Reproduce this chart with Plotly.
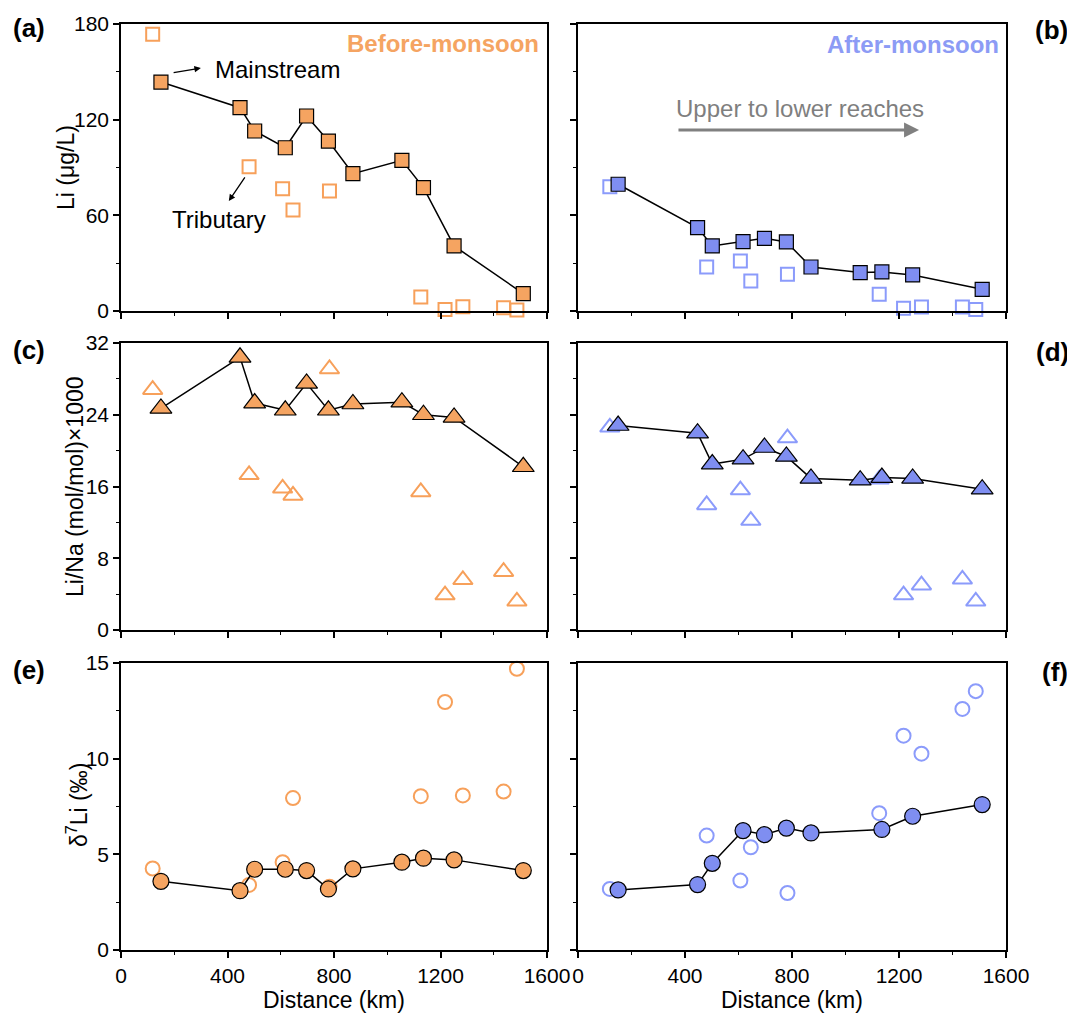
import plotly.graph_objects as go

# ---------------- data ----------------
main_x = [150, 447, 502, 617, 697, 779, 871, 1055, 1136, 1251, 1511]
trib_x = [119, 481, 607, 646, 783, 1126, 1217, 1284, 1437, 1487]

li_before_main = [143.6, 127.5, 112.9, 102.4, 122.3, 106.6, 86.1, 94.5, 77.4, 40.8, 10.9]
li_before_trib = [173.5, 90.5, 76.7, 63.3, 75.3, 8.8, 1.0, 2.7, 2.0, 0.6]
li_after_main = [79.5, 52.3, 40.8, 43.5, 45.6, 43.3, 27.6, 24.1, 24.5, 22.6, 13.6]
li_after_trib = [78.0, 27.6, 31.4, 18.8, 23.0, 10.5, 1.7, 2.5, 2.5, 1.0]

lina_before_main = [24.7, 30.4, 25.3, 24.5, 27.5, 24.5, 25.2, 25.4, 24.0, 23.7, 18.2]
lina_before_trib = [26.8, 17.3, 15.8, 15.0, 29.1, 15.4, 3.9, 5.6, 6.5, 3.2]
lina_after_main = [22.8, 21.95, 18.5, 19.05, 20.35, 19.35, 16.9, 16.7, 17.0, 16.9, 15.7]
lina_after_trib = [22.6, 13.95, 15.6, 12.2, 21.4, 16.8, 3.9, 5.0, 5.65, 3.2]

d7li_before_main = [3.59, 3.10, 4.22, 4.22, 4.15, 3.19, 4.24, 4.59, 4.80, 4.71, 4.15]
d7li_before_trib = [4.26, 3.40, 4.59, 7.94, 3.31, 8.04, 12.96, 8.08, 8.28, 14.7]
d7li_after_main = [3.14, 3.42, 4.53, 6.24, 6.03, 6.37, 6.12, None, 6.30, 6.99, 7.60]
d7li_after_trib = [3.19, 5.98, 3.63, 5.37, 2.98, 7.15, 11.2, 10.26, 12.6, 13.53]

x_ticks = [0, 400, 800, 1200, 1600]
y_ranges = [[0, 180], [0, 32], [0, 15]]
y_dticks = [60, 8, 5]
y_titles = ["Li (μg/L)", "Li/Na (mol/mol)×1000", "δ<sup>7</sup>Li (‰)"]
panel_labels = ["(a)", "(b)", "(c)", "(d)", "(e)", "(f)"]

# ---------------- style ----------------
OFF = 8  # page body margin
W, H = 1075 - OFF, 1015 - OFF
FONT = "Liberation Sans, Arial, sans-serif"
ORANGE_FILL = "#F5A461"
ORANGE_OPEN = "#F7A05A"
BLUE_FILL = "#7F8EF1"
BLUE_OPEN = "#8B9BFB"


def px(x):
    return (x - OFF) / W


def py(y):
    return 1 - (y - OFF) / H


col_dom = [[px(121), px(547)], [px(578), px(1006)]]
row_dom = [[py(311), py(24)], [py(630), py(343)], [py(950), py(663)]]

fig = go.Figure()

series = [
    (0, 0, li_before_main, li_before_trib, "square", ORANGE_FILL, ORANGE_OPEN, 14, 13),
    (0, 1, li_after_main, li_after_trib, "square", BLUE_FILL, BLUE_OPEN, 14, 13),
    (1, 0, lina_before_main, lina_before_trib, "triangle-up", ORANGE_FILL, ORANGE_OPEN, 19, 17),
    (1, 1, lina_after_main, lina_after_trib, "triangle-up", BLUE_FILL, BLUE_OPEN, 19, 17),
    (2, 0, d7li_before_main, d7li_before_trib, "circle", ORANGE_FILL, ORANGE_OPEN, 16, 14),
    (2, 1, d7li_after_main, d7li_after_trib, "circle", BLUE_FILL, BLUE_OPEN, 16, 14),
]

for r, c, main, trib, sym, fcol, ocol, sf, so in series:
    idx = r * 2 + c + 1
    xa = "x" if idx == 1 else f"x{idx}"
    ya = "y" if idx == 1 else f"y{idx}"
    fig.add_trace(go.Scatter(
        x=trib_x, y=trib, mode="markers", xaxis=xa, yaxis=ya, cliponaxis=False,
        marker=dict(symbol=sym + "-open", size=so, color=ocol, line=dict(width=2, color=ocol)),
        showlegend=False, hoverinfo="x+y"))
    fig.add_trace(go.Scatter(
        x=main_x, y=main, mode="lines+markers", xaxis=xa, yaxis=ya, cliponaxis=False,
        connectgaps=True,
        line=dict(color="black", width=1.5),
        marker=dict(symbol=sym, size=sf, color=fcol, line=dict(width=1.2, color="black")),
        showlegend=False, hoverinfo="x+y"))

    ax_common = dict(showline=True, linecolor="black", linewidth=1.5, mirror=True,
                     ticks="outside", ticklen=6, tickwidth=1.5, tickcolor="black",
                     showgrid=False, zeroline=False, automargin=False,
                     tickfont=dict(family=FONT, size=21, color="black"))
    xkey = "xaxis" if idx == 1 else f"xaxis{idx}"
    ykey = "yaxis" if idx == 1 else f"yaxis{idx}"
    fig.update_layout(**{
        xkey: dict(ax_common, domain=col_dom[c], anchor=ya, range=[0, 1600],
                   tickvals=x_ticks, showticklabels=(r == 2),
                   minor=dict(ticks="outside", ticklen=3, tickwidth=1.2, tickcolor="black", dtick=200)),
        ykey: dict(ax_common, domain=row_dom[r], anchor=xa, range=y_ranges[r],
                   dtick=y_dticks[r], tick0=0, showticklabels=(c == 0),
                   minor=dict(ticks="outside", ticklen=3, tickwidth=1.2, tickcolor="black",
                              dtick=y_dticks[r] / 2)),
    })

ann = []
lab_pos = [(29, 28), (1051, 30), (29, 350), (1052, 352), (29, 670), (1055, 672)]
for t, (x, y) in zip(panel_labels, lab_pos):
    ann.append(dict(text=f"<b>{t}</b>", x=px(x), y=py(y), xref="paper", yref="paper",
                    showarrow=False, font=dict(family=FONT, size=26, color="black"),
                    xanchor="center", yanchor="middle"))
for t, (x, y) in zip(y_titles, [(66, 168), (75, 487), (77, 805)]):
    ann.append(dict(text=t, x=px(x), y=py(y), xref="paper", yref="paper", textangle=-90,
                    showarrow=False, font=dict(family=FONT, size=23, color="black"),
                    xanchor="center", yanchor="middle"))
for x in [334, 792]:
    ann.append(dict(text="Distance (km)", x=px(x), y=py(1000), xref="paper", yref="paper",
                    showarrow=False, font=dict(family=FONT, size=23, color="black"),
                    xanchor="center", yanchor="middle"))
ann.append(dict(text="<b>Before-monsoon</b>", x=px(541), y=py(44), xref="paper", yref="paper",
                showarrow=False, font=dict(family=FONT, size=24, color="#F5A462"),
                xanchor="right", yanchor="middle"))
ann.append(dict(text="<b>After-monsoon</b>", x=px(1001), y=py(45), xref="paper", yref="paper",
                showarrow=False, font=dict(family=FONT, size=24, color="#8C9BF5"),
                xanchor="right", yanchor="middle"))
ann.append(dict(text="Mainstream", x=345, y=151.5, xref="x", yref="y", showarrow=False,
                font=dict(family=FONT, size=24, color="black"), xanchor="left", yanchor="middle"))
ann.append(dict(text="", x=300, y=152.4, ax=192, ay=149.3, xref="x", yref="y",
                axref="x", ayref="y", showarrow=True, arrowhead=2, arrowsize=1,
                arrowwidth=1.3, arrowcolor="black"))
ann.append(dict(text="Tributary", x=368, y=57.1, xref="x", yref="y", showarrow=False,
                font=dict(family=FONT, size=24, color="black"), xanchor="center", yanchor="middle"))
ann.append(dict(text="", x=405, y=69, ax=469, ay=84.7, xref="x", yref="y",
                axref="x", ayref="y", showarrow=True, arrowhead=2, arrowsize=1,
                arrowwidth=1.3, arrowcolor="black"))
ann.append(dict(text="Upper to lower reaches", x=359, y=127.3, xref="x2", yref="y2",
                showarrow=False, font=dict(family=FONT, size=24, color="#7F7F7F"),
                xanchor="left", yanchor="middle"))
ann.append(dict(text="", x=1275, y=113.5, ax=370, ay=113.5, xref="x2", yref="y2",
                axref="x2", ayref="y2", showarrow=True, arrowhead=2, arrowsize=1,
                arrowwidth=3, arrowcolor="#808080"))

fig.update_layout(annotations=ann, width=W, height=H,
                  margin=dict(l=0, r=0, t=0, b=0, autoexpand=False),
                  paper_bgcolor="white", plot_bgcolor="white",
                  font=dict(family=FONT, color="black"))

fig.write_html("out.html")
